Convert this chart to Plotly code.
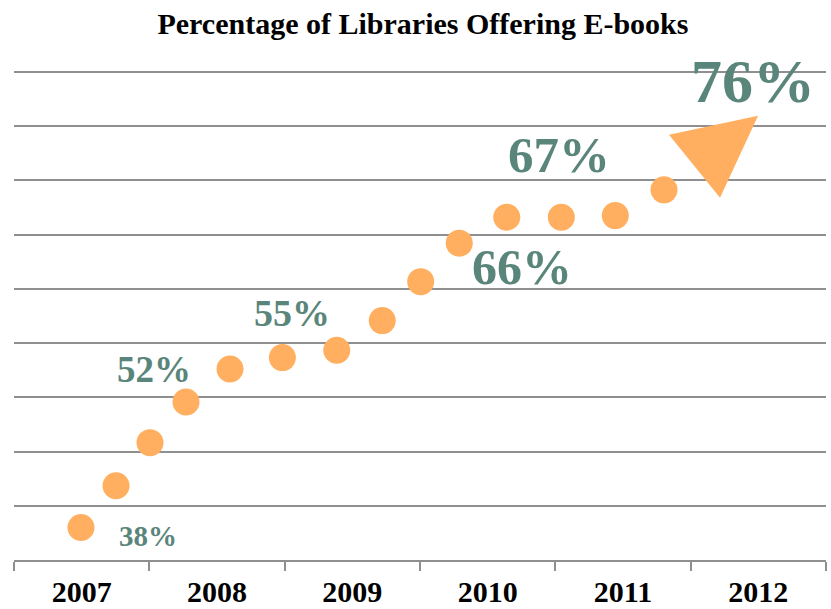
import plotly.graph_objects as go

# ---- data ----
years = ["2007", "2008", "2009", "2010", "2011", "2012"]
year_start = [2007, 2008, 2009, 2010, 2011, 2012, 2013]
year_mid = [2007.5, 2008.5, 2009.5, 2010.5, 2011.5, 2012.5]

point_x = [2007.495, 2007.754, 2008.005, 2008.271, 2008.596, 2008.983, 2009.385,
           2009.721, 2010.005, 2010.290, 2010.641, 2011.044, 2011.443, 2011.803]
point_y = [38.0, 41.85, 45.82, 49.57, 52.61, 53.66, 54.34,
           57.07, 60.66, 64.21, 66.60, 66.60, 66.75, 69.12]

arrow_x = [2011.840, 2012.498, 2012.217]
arrow_y = [74.21, 75.96, 68.39]

label_text = ["38%", "52%", "55%", "66%", "67%", "76%"]
label_x = [2007.987, 2008.034, 2009.054, 2010.754, 2011.027, 2012.460]
label_y = [37.21, 52.6, 57.8, 62.0, 72.3, 79.12]
label_size = [29, 37, 38, 50, 51, 62]

ORANGE = "#FFAF5F"
TEAL = "#5A857A"
GRID = "#8F8F8F"
FONT = "Liberation Serif"

fig = go.Figure()

fig.add_trace(go.Scatter(
    x=arrow_x + [arrow_x[0]], y=arrow_y + [arrow_y[0]],
    mode="lines", fill="toself", fillcolor=ORANGE,
    line=dict(width=0, color=ORANGE), hoverinfo="skip", showlegend=False,
))

fig.add_trace(go.Scatter(
    x=point_x, y=point_y, mode="markers",
    marker=dict(size=27, color=ORANGE, line=dict(width=0)),
    showlegend=False, cliponaxis=False,
))

for t, x, y, s in zip(label_text, label_x, label_y, label_size):
    fig.add_annotation(x=x, y=y, xref="x", yref="y", text="<b>%s</b>" % t,
                       showarrow=False, xanchor="center", yanchor="middle",
                       font=dict(family=FONT, size=s, color=TEAL))

fig.update_layout(
    width=831, height=609,
    margin=dict(l=14, r=5, t=61, b=49),
    paper_bgcolor="white", plot_bgcolor="white",
    title=dict(text="<b>Percentage of Libraries Offering E-books</b>",
               x=0.509, xanchor="center", y=1 - 23 / 609, yanchor="middle",
               yref="container", font=dict(family=FONT, size=30, color="black")),
    xaxis=dict(range=[2007, 2013], tickvals=year_start, ticktext=[""] * len(year_start),
               ticks="outside", ticklen=9, tickwidth=2, tickcolor=GRID,
               showline=True, linecolor=GRID, linewidth=2, showgrid=False,
               zeroline=False, fixedrange=True, automargin=False),
    xaxis2=dict(range=[2007, 2013], overlaying="x", side="bottom", anchor="y",
                tickvals=year_mid, ticktext=["<b>%s</b>" % y for y in years],
                ticks="", showline=False, showgrid=False, zeroline=False,
                ticklabelstandoff=11, automargin=False,
                tickfont=dict(family=FONT, size=30, color="black")),
    yaxis=dict(range=[35, 81], tick0=35, dtick=5, showticklabels=False,
               showgrid=True, gridcolor=GRID, gridwidth=2, zeroline=False,
               showline=False, ticks="", fixedrange=True, automargin=False),
)

# dummy trace to activate the label axis
fig.add_trace(go.Scatter(x=[2007.5], y=[None], xaxis="x2", showlegend=False,
                         hoverinfo="skip"))

fig.write_html("out.html", config={"displayModeBar": False},
               post_script="document.body.style.margin='0';document.body.style.overflow='hidden';")
